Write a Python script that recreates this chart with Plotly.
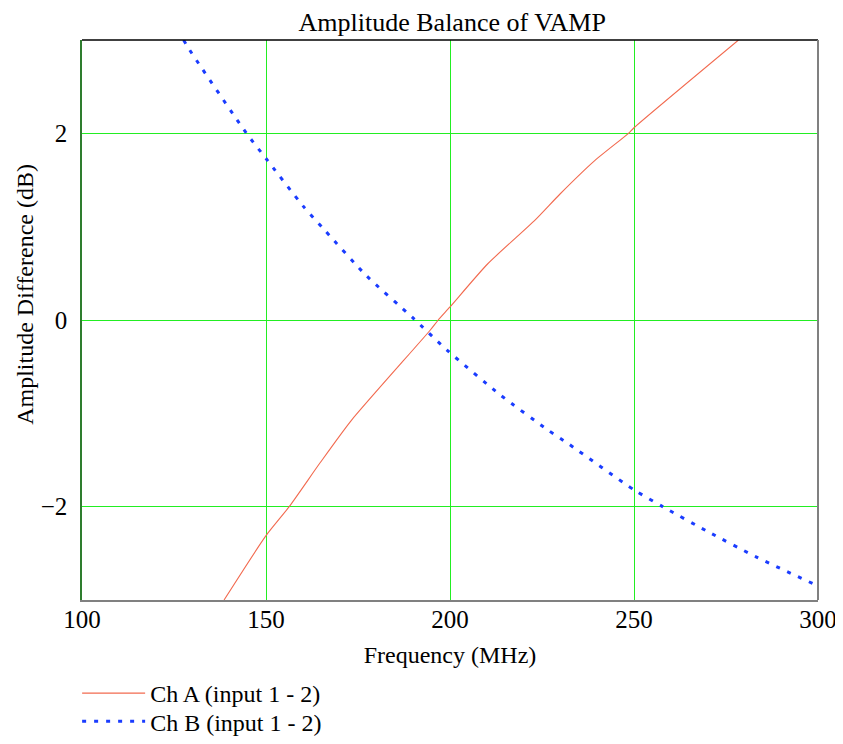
import plotly.graph_objects as go

# Ch A (input 1 - 2)
freq_a = [138.6, 150.0, 156.3, 164.7, 173.1, 194.6, 196.8, 200.0, 210.2, 223.1, 229.9, 239.4, 248.5, 250.0, 278.4]
db_a = [-3.0, -2.31, -2.0, -1.53, -1.08, -0.11, 0.0, 0.14, 0.6, 1.07, 1.35, 1.71, 2.0, 2.06, 3.0]

# Ch B (input 1 - 2)
freq_b = [127.6, 129.3, 144.7, 150.0, 160.1, 166.0, 177.4, 190.0, 199.1, 213.9, 226.3, 232.3, 250.0, 257.8, 270.2, 283.3, 300.0]
db_b = [3.0, 2.89, 2.0, 1.73, 1.22, 0.96, 0.47, 0.02, -0.32, -0.81, -1.17, -1.33, -1.82, -2.0, -2.27, -2.54, -2.85]

x_ticks = [100, 150, 200, 250, 300]
y_ticks = [-2, 0, 2]
y_tick_text = ["\u22122", "0", "2"]

FONT = "Liberation Serif, Times New Roman, serif"
GRID = "#22ee22"

fig = go.Figure()
fig.add_trace(go.Scatter(x=freq_a, y=db_a, mode="lines", name="Ch A (input 1 - 2)", legend="legend",
                         line=dict(color="#f26a4f", width=1.1, shape="spline", smoothing=0.6)))
fig.add_trace(go.Scatter(x=freq_b, y=db_b, mode="lines", name="Ch B (input 1 - 2)", legend="legend2",
                         line=dict(color="#1a3cff", width=3, dash="4px,8px", shape="spline", smoothing=0.6)))

legend_common = dict(xref="container", yref="container", x=0.082, xanchor="left", yanchor="top",
                     orientation="v", font=dict(size=24), bgcolor="rgba(0,0,0,0)", itemwidth=63)

fig.update_layout(
    width=843, height=744,
    margin=dict(l=74, r=33, t=32, b=152, autoexpand=False),
    paper_bgcolor="white", plot_bgcolor="white",
    font=dict(family=FONT, size=25, color="black"),
    title=dict(text="Amplitude Balance of VAMP", x=0.527, xanchor="center",
               y=0.982, yanchor="middle", yref="container",
               font=dict(family=FONT, size=26, color="black")),
    xaxis=dict(range=[100, 300], tickvals=x_ticks, showgrid=True, gridcolor=GRID, gridwidth=1,
               showline=True, linecolor="#808080", linewidth=2, zeroline=False, ticks="",
               automargin=True, tickfont=dict(size=25), ticklabelstandoff=-4,
               title=dict(text="Frequency (MHz)", font=dict(size=24), standoff=14)),
    yaxis=dict(range=[-3, 3], tickvals=y_ticks, ticktext=y_tick_text, showgrid=True, gridcolor=GRID,
               gridwidth=1, showline=True, linecolor="#2e7d2e", linewidth=1.5, zeroline=False, ticks="",
               automargin=True, tickfont=dict(size=25), ticklabelstandoff=8),
    legend=dict(y=0.1089, **legend_common),
    legend2=dict(y=0.0712, **legend_common),
    showlegend=True,
    annotations=[dict(text="Amplitude Difference (dB)", xref="paper", yref="paper", x=-0.0774, y=0.545,
                      xanchor="center", yanchor="middle", textangle=-90, showarrow=False,
                      font=dict(family=FONT, size=24, color="black"))],
)

# frame: top black and right gray borders
fig.add_shape(type="line", xref="paper", yref="paper", x0=0, x1=1, y0=1, y1=1,
              line=dict(color="black", width=1.5))
fig.add_shape(type="line", xref="paper", yref="paper", x0=1, x1=1, y0=0, y1=1,
              line=dict(color="#808080", width=2))

fig.write_html("out.html")
